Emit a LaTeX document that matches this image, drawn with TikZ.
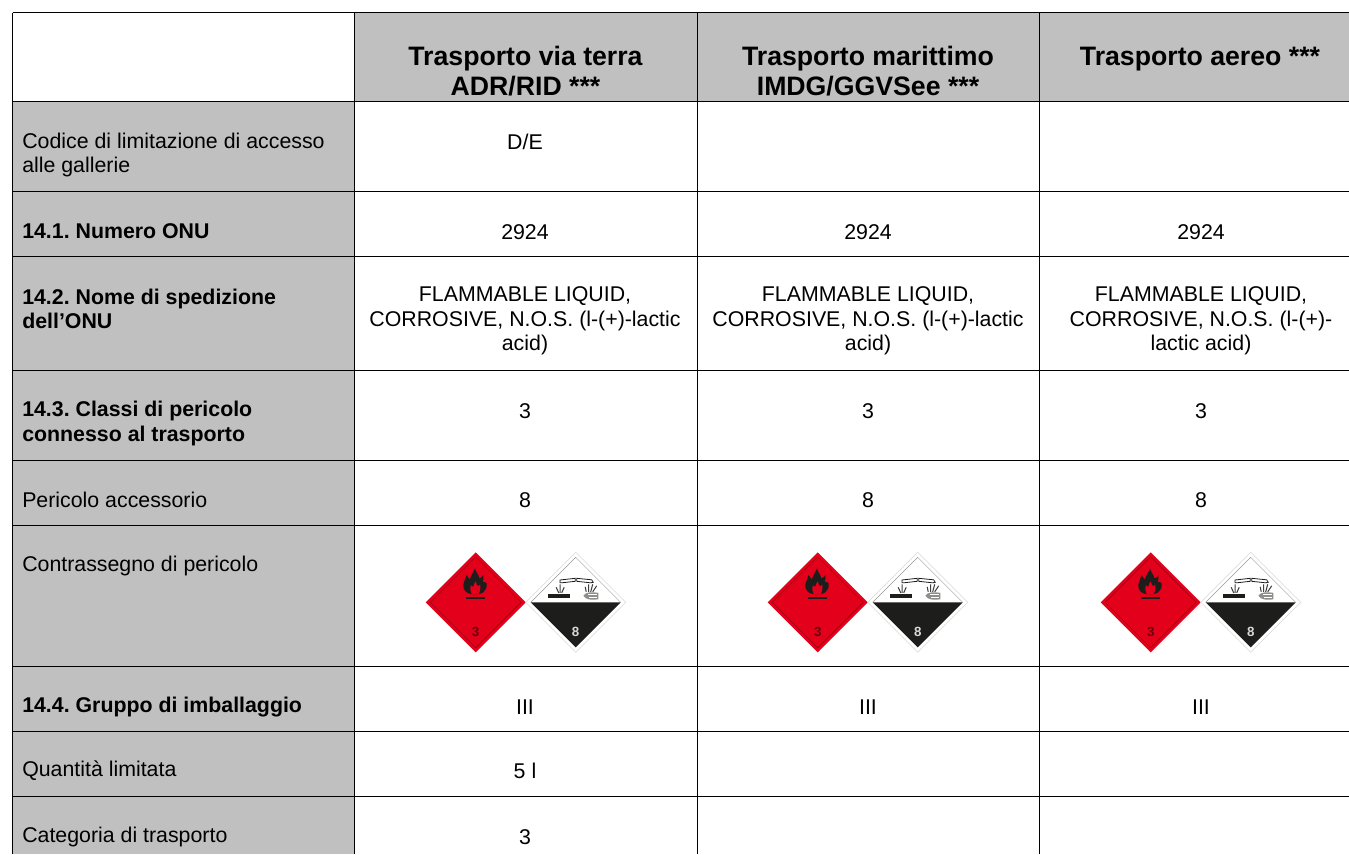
\documentclass[tikz,border=0pt]{standalone}
\usepackage{fontspec}
\setmainfont{Liberation Sans}
\frenchspacing
\definecolor{hdr}{HTML}{C0C0C0}
\definecolor{lbred}{HTML}{E2001A}
\definecolor{lbdark}{HTML}{1D1D1B}
\tikzset{
  x=0.75pt,y=-0.75pt,
  rule/.style={line width=0.75pt,black},
  bandfill/.style={fill=hdr,draw=none},
  headtext/.style={font=\fontsize{20}{22.2}\selectfont\bfseries,align=center,inner sep=0pt},
  bodytext/.style={font=\fontsize{16}{18.5}\selectfont,align=center,inner sep=0pt},
  sidetext/.style={font=\fontsize{16}{18.5}\selectfont,align=left,inner sep=0pt,anchor=west},
  sidebold/.style={font=\fontsize{16}{18.5}\selectfont\bfseries,align=left,inner sep=0pt,anchor=west},
  pics/redlabel/.style={code={
    \fill[lbred] (0,-50)--(50,0)--(0,50)--(-50,0)--cycle;
    \draw[line width=0.3pt,black!35!lbred] (0,-45.5)--(45.5,0)--(0,45.5)--(-45.5,0)--cycle;
    \fill[lbdark] (-0.7,-34) .. controls (0,-30) and (3,-28) .. (3.6,-24)
      .. controls (5.5,-24.5) and (7,-25.5) .. (7.6,-27.3)
      .. controls (8.5,-25) and (7.5,-23) .. (7,-20.6)
      .. controls (8.5,-20.5) and (10,-20) .. (11,-19)
      .. controls (11.5,-15) and (10,-12) .. (7.6,-10)
      .. controls (6,-9) and (4,-8.3) .. (2.6,-8.3) -- (-4,-8.3)
      .. controls (-6,-8.5) and (-8.5,-9) .. (-10,-10.6)
      .. controls (-12,-13) and (-12.6,-15) .. (-12.4,-17.3)
      .. controls (-12,-20.5) and (-10,-24) .. (-9,-27.3)
      .. controls (-8.5,-25.5) and (-7,-24) .. (-5.7,-23)
      .. controls (-5,-27) and (-2,-30) .. (-0.7,-34) -- cycle;
    \fill[lbred] (0,-21) .. controls (0.5,-18) and (1.5,-17) .. (2.5,-16)
      .. controls (3.5,-16.5) and (4,-17) .. (4.5,-18)
      .. controls (5,-15) and (5,-12) .. (3,-8.3) -- (-4,-8.3)
      .. controls (-5.5,-11) and (-6,-14) .. (-5,-17)
      .. controls (-4.5,-16) and (-3.5,-15.5) .. (-2.5,-15.5)
      .. controls (-2,-17.5) and (-1,-19.5) .. (0,-21) -- cycle;
    \fill[lbdark] (-10,-5) rectangle (9.5,-3.3);
    \node[font=\fontsize{10}{10}\selectfont\bfseries,text=black!55!lbred,inner sep=0pt] at (0,30) {3};
  }},
  pics/corrlabel/.style={code={
    \fill[white] (0,-50)--(50,0)--(0,50)--(-50,0)--cycle;
    \draw[line width=0.4pt,black!15] (0,-50)--(50,0)--(0,50)--(-50,0)--cycle;
    \draw[line width=0.3pt,black!40] (-45,0)--(0,-45)--(45,0);
    \fill[lbdark] (-45,0)--(45,0)--(0,45)--cycle;
    \fill[lbdark] (-27.4,-8) rectangle (-5.7,-4);
    \draw[line width=0.6pt,lbdark] (-15.7,-22.3) -- (-0.5,-24) -- (-0.5,-21) -- (-14,-19.5) -- (-15.7,-19.5) -- cycle;
    \draw[line width=0.6pt,lbdark] (1,-24) -- (16,-22.5) -- (17.5,-20) -- (15,-19.5) -- (1,-21) -- cycle;
    \draw[line width=0.8pt,lbdark!85] (-15.5,-18) -- (-15.5,-9.5) (-19.5,-15) -- (-17,-9.5) (-11.5,-15) -- (-14,-9.5);
    \draw[line width=0.8pt,lbdark!85] (13,-18) -- (13,-10.5) (17,-18) -- (15,-10.5) (21,-16.5) -- (17,-10.5) (9.5,-15.5) -- (10.5,-10.5);
    \fill[lbdark!50] (7.6,-6.5) .. controls (10,-10.5) and (16,-10.5) .. (22.6,-9.5)
      -- (22.6,-3) .. controls (16,-2) and (10,-2.5) .. (7.6,-6.5) -- cycle;
    \draw[line width=0.5pt,white] (12,-7.5) -- (21,-7.5) (13,-5) -- (21,-5);
    \node[font=\fontsize{10}{10}\selectfont\bfseries,text=black!15,inner sep=0pt] at (0,30) {8};
  }}
}
\begin{document}
\begin{tikzpicture}
\useasboundingbox (0,0) rectangle (1349,854);
\fill[white] (0,0) rectangle (1349,854);
% shaded bands
\fill[bandfill] (354.5,12.5) rectangle (1349,101.5);
\fill[bandfill] (12.5,101.5) rectangle (354.5,854);
% rules
\foreach \yy in {12.5,101.5,191.5,256.5,370.5,460.5,525.5,666.5,731.5,796.5}
  \draw[rule] (12.5,\yy) -- (1349,\yy);
\foreach \xx in {12.5,354.5,697.5,1039.5}
  \draw[rule] (\xx,12.5) -- (\xx,854);
% headers
\node[headtext] (h1) at (525.5,71) {Trasporto via terra\\ADR/RID ***};
\node[headtext] (h2) at (868,71) {Trasporto marittimo\\IMDG/GGVSee ***};
\node[headtext] (h3) at (1200,59.5) {Trasporto aereo ***};
% side
\node[sidetext] (s1) at (22,155) {Codice di limitazione di accesso\\alle gallerie};
\node[sidebold] (s2) at (22,231) {14.1. Numero ONU};
\node[sidebold] (s3) at (22,309) {14.2. Nome di spedizione\\dell’ONU};
\node[sidebold] (s4) at (22,423.5) {14.3. Classi di pericolo\\connesso al trasporto};
\node[sidetext] (s5) at (22,499.5) {Pericolo accessorio};
\node[sidetext] (s6) at (22,566) {Contrassegno di pericolo};
\node[sidebold] (s7) at (22,707) {14.4. Gruppo di imballaggio};
\node[sidetext] (s8) at (22,771) {Quantità limitata};
\node[sidetext] (s9) at (22,837) {Categoria di trasporto};
% cells
\node[bodytext] (c11) at (525,142) {D/E};
\node[bodytext] (c21) at (525,232) {2924};
\node[bodytext] (c22) at (868,232) {2924};
\node[bodytext] (c23) at (1201,232) {2924};
\node[bodytext] (c31) at (525,321) {FLAMMABLE LIQUID,\\CORROSIVE, N.O.S. (l-(+)-lactic\\acid)};
\node[bodytext] (c32) at (868,321) {FLAMMABLE LIQUID,\\CORROSIVE, N.O.S. (l-(+)-lactic\\acid)};
\node[bodytext] (c33) at (1201,321) {FLAMMABLE LIQUID,\\CORROSIVE, N.O.S. (l-(+)-\\lactic acid)};
\node[bodytext] (c41) at (525,411) {3};
\node[bodytext] (c42) at (868,411) {3};
\node[bodytext] (c43) at (1201,411) {3};
\node[bodytext] (c51) at (525,500) {8};
\node[bodytext] (c52) at (868,500) {8};
\node[bodytext] (c53) at (1201,500) {8};
\node[bodytext] (c71) at (525,707) {III};
\node[bodytext] (c72) at (868,707) {III};
\node[bodytext] (c73) at (1201,707) {III};
\node[bodytext] (c81) at (525,771) {5 l};
\node[bodytext] (c91) at (525,837) {3};
% labels
\foreach \cx in {475.7,817.7,1150.7}{
  \pic at (\cx,602.3) {redlabel};
}
\foreach \cx in {575.7,917.7,1250.7}{
  \pic at (\cx,602.3) {corrlabel};
}
\end{tikzpicture}
\end{document}
